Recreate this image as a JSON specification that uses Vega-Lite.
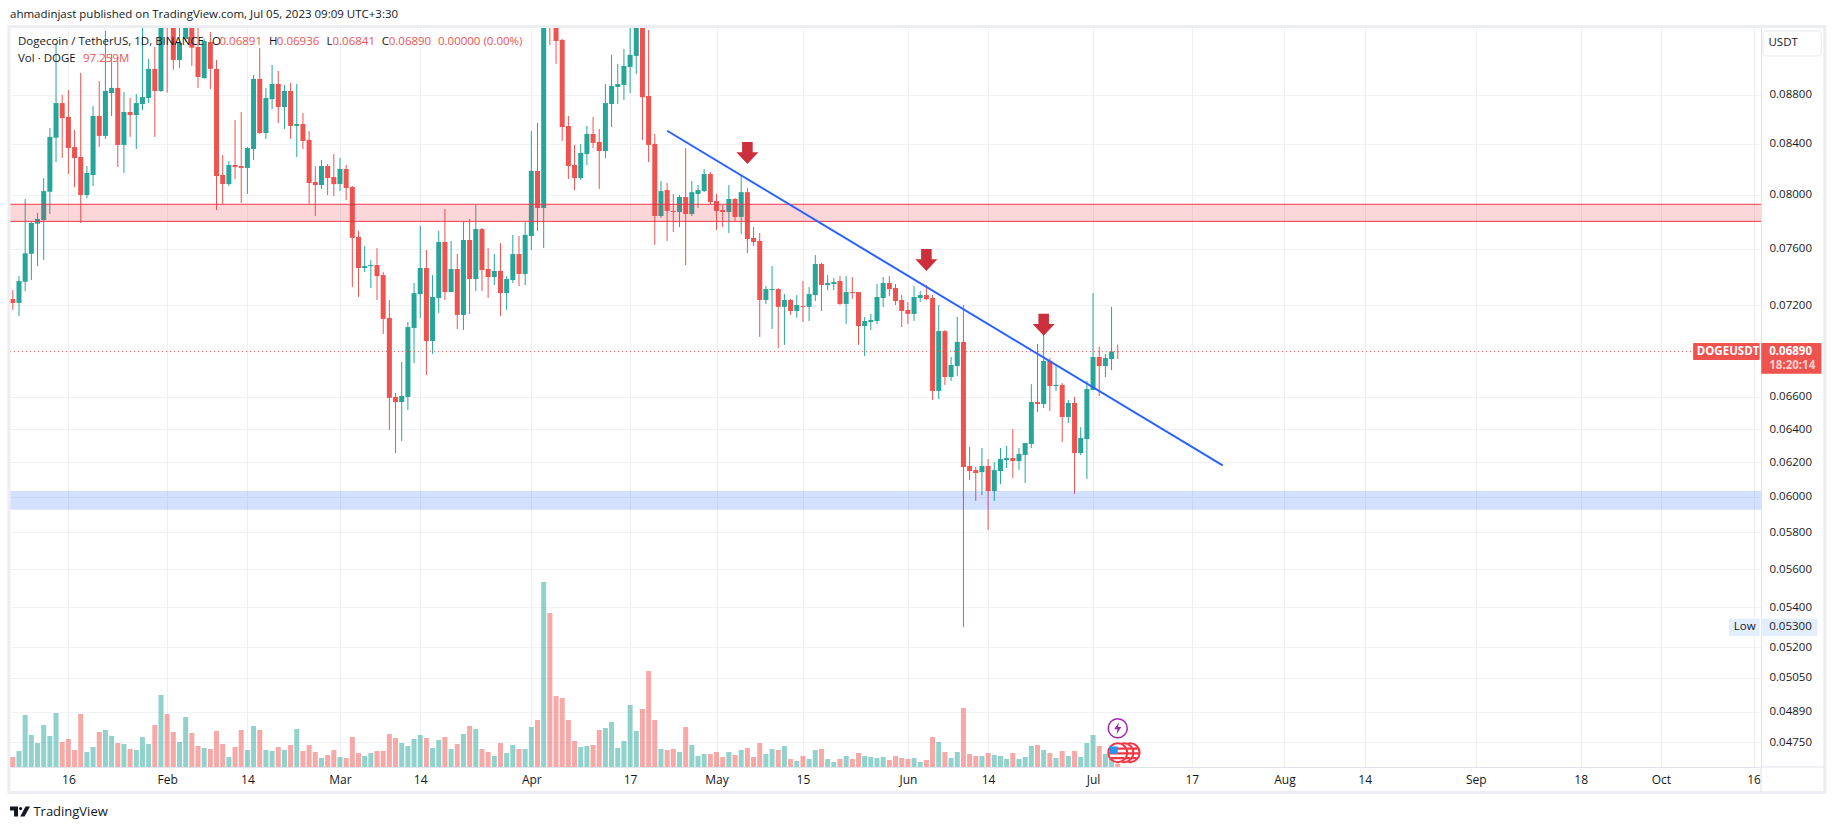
{"$schema":"https://vega.github.io/schema/vega-lite/v6.json","width":1751,"height":740,"autosize":{"type":"none"},"padding":{"left":10,"top":27,"right":74,"bottom":62},"background":"#ffffff","config":{"view":{"stroke":null},"font":"Open Sans"},
"datasets":{"candles":[
{"d":"2023-01-07","o":0.07244,"h":0.07306,"l":0.07169,"c":0.07217,"v":300,"s":"down"},
{"d":"2023-01-08","o":0.07217,"h":0.07404,"l":0.07128,"c":0.07369,"v":480,"s":"up"},
{"d":"2023-01-09","o":0.07364,"h":0.07968,"l":0.07299,"c":0.07566,"v":1560,"s":"up"},
{"d":"2023-01-10","o":0.07563,"h":0.07795,"l":0.07376,"c":0.07788,"v":960,"s":"up"},
{"d":"2023-01-11","o":0.07783,"h":0.07863,"l":0.07475,"c":0.07818,"v":720,"s":"up"},
{"d":"2023-01-12","o":0.0781,"h":0.08129,"l":0.07518,"c":0.08028,"v":1260,"s":"up"},
{"d":"2023-01-13","o":0.08023,"h":0.08525,"l":0.07855,"c":0.08453,"v":930,"s":"up"},
{"d":"2023-01-14","o":0.08447,"h":0.09245,"l":0.08253,"c":0.0873,"v":1620,"s":"up"},
{"d":"2023-01-15","o":0.0873,"h":0.08797,"l":0.08285,"c":0.08606,"v":750,"s":"down"},
{"d":"2023-01-16","o":0.08615,"h":0.0884,"l":0.0816,"c":0.08364,"v":840,"s":"down"},
{"d":"2023-01-17","o":0.08372,"h":0.08509,"l":0.08059,"c":0.08285,"v":510,"s":"down"},
{"d":"2023-01-18","o":0.08293,"h":0.08984,"l":0.07788,"c":0.07998,"v":1590,"s":"down"},
{"d":"2023-01-19","o":0.07998,"h":0.08222,"l":0.07975,"c":0.08168,"v":450,"s":"up"},
{"d":"2023-01-20","o":0.08152,"h":0.08705,"l":0.08067,"c":0.08623,"v":600,"s":"up"},
{"d":"2023-01-21","o":0.08623,"h":0.08916,"l":0.08372,"c":0.08461,"v":1050,"s":"down"},
{"d":"2023-01-22","o":0.08461,"h":0.0935,"l":0.08437,"c":0.08831,"v":1110,"s":"up"},
{"d":"2023-01-23","o":0.08814,"h":0.09148,"l":0.08623,"c":0.08857,"v":930,"s":"up"},
{"d":"2023-01-24","o":0.08857,"h":0.09122,"l":0.08214,"c":0.08389,"v":720,"s":"down"},
{"d":"2023-01-25","o":0.08389,"h":0.08823,"l":0.08168,"c":0.08656,"v":690,"s":"up"},
{"d":"2023-01-26","o":0.08656,"h":0.08772,"l":0.08453,"c":0.08631,"v":540,"s":"down"},
{"d":"2023-01-27","o":0.08631,"h":0.08806,"l":0.08356,"c":0.0873,"v":510,"s":"up"},
{"d":"2023-01-28","o":0.08722,"h":0.09395,"l":0.08672,"c":0.0878,"v":900,"s":"up"},
{"d":"2023-01-29","o":0.08772,"h":0.09105,"l":0.0873,"c":0.09019,"v":690,"s":"up"},
{"d":"2023-01-30","o":0.09019,"h":0.09209,"l":0.08453,"c":0.08831,"v":1260,"s":"down"},
{"d":"2023-01-31","o":0.08831,"h":0.0965,"l":0.08823,"c":0.0945,"v":2160,"s":"up"},
{"d":"2023-02-01","o":0.0965,"h":0.0975,"l":0.08817,"c":0.0945,"v":1590,"s":"down"},
{"d":"2023-02-02","o":0.0945,"h":0.0955,"l":0.0901,"c":0.09096,"v":1050,"s":"down"},
{"d":"2023-02-03","o":0.09096,"h":0.0939,"l":0.09027,"c":0.09245,"v":750,"s":"up"},
{"d":"2023-02-04","o":0.0928,"h":0.096,"l":0.09256,"c":0.0945,"v":1500,"s":"up"},
{"d":"2023-02-05","o":0.0945,"h":0.096,"l":0.09044,"c":0.09203,"v":1020,"s":"down"},
{"d":"2023-02-06","o":0.09209,"h":0.09386,"l":0.08857,"c":0.0895,"v":630,"s":"down"},
{"d":"2023-02-07","o":0.08941,"h":0.0928,"l":0.08933,"c":0.09262,"v":570,"s":"up"},
{"d":"2023-02-08","o":0.09253,"h":0.09341,"l":0.08848,"c":0.09019,"v":540,"s":"down"},
{"d":"2023-02-09","o":0.09019,"h":0.09096,"l":0.07885,"c":0.08144,"v":1080,"s":"down"},
{"d":"2023-02-10","o":0.08152,"h":0.08309,"l":0.0793,"c":0.08082,"v":690,"s":"down"},
{"d":"2023-02-11","o":0.08082,"h":0.08261,"l":0.08067,"c":0.0823,"v":300,"s":"up"},
{"d":"2023-02-12","o":0.0823,"h":0.0859,"l":0.08121,"c":0.08214,"v":600,"s":"down"},
{"d":"2023-02-13","o":0.08222,"h":0.08656,"l":0.07938,"c":0.08207,"v":1110,"s":"down"},
{"d":"2023-02-14","o":0.08207,"h":0.08372,"l":0.08006,"c":0.08364,"v":510,"s":"up"},
{"d":"2023-02-15","o":0.08356,"h":0.08967,"l":0.08269,"c":0.08933,"v":1230,"s":"up"},
{"d":"2023-02-16","o":0.08933,"h":0.092,"l":0.08477,"c":0.08485,"v":1110,"s":"down"},
{"d":"2023-02-17","o":0.08485,"h":0.08857,"l":0.08437,"c":0.08772,"v":510,"s":"up"},
{"d":"2023-02-18","o":0.08763,"h":0.09053,"l":0.0868,"c":0.0889,"v":480,"s":"up"},
{"d":"2023-02-19","o":0.0889,"h":0.09001,"l":0.08566,"c":0.08697,"v":600,"s":"down"},
{"d":"2023-02-20","o":0.08697,"h":0.08882,"l":0.08517,"c":0.08831,"v":510,"s":"up"},
{"d":"2023-02-21","o":0.08831,"h":0.08899,"l":0.08437,"c":0.08542,"v":660,"s":"down"},
{"d":"2023-02-22","o":0.08542,"h":0.0889,"l":0.08293,"c":0.08558,"v":1140,"s":"up"},
{"d":"2023-02-23","o":0.08558,"h":0.08647,"l":0.08356,"c":0.08421,"v":480,"s":"down"},
{"d":"2023-02-24","o":0.08429,"h":0.08501,"l":0.0793,"c":0.0809,"v":660,"s":"down"},
{"d":"2023-02-25","o":0.08098,"h":0.08222,"l":0.0784,"c":0.08075,"v":450,"s":"down"},
{"d":"2023-02-26","o":0.08075,"h":0.08269,"l":0.08044,"c":0.08222,"v":270,"s":"up"},
{"d":"2023-02-27","o":0.08222,"h":0.08238,"l":0.07998,"c":0.08129,"v":360,"s":"down"},
{"d":"2023-02-28","o":0.08136,"h":0.08316,"l":0.0799,"c":0.08082,"v":510,"s":"down"},
{"d":"2023-03-01","o":0.08082,"h":0.08285,"l":0.08028,"c":0.08199,"v":300,"s":"up"},
{"d":"2023-03-02","o":0.08199,"h":0.0823,"l":0.0796,"c":0.08052,"v":270,"s":"down"},
{"d":"2023-03-03","o":0.08059,"h":0.08067,"l":0.07327,"c":0.07678,"v":900,"s":"down"},
{"d":"2023-03-04","o":0.07685,"h":0.07729,"l":0.07258,"c":0.07461,"v":420,"s":"down"},
{"d":"2023-03-05","o":0.07461,"h":0.07619,"l":0.07433,"c":0.07475,"v":330,"s":"up"},
{"d":"2023-03-06","o":0.07475,"h":0.07518,"l":0.0732,"c":0.07482,"v":420,"s":"up"},
{"d":"2023-03-07","o":0.07482,"h":0.07604,"l":0.07237,"c":0.07404,"v":480,"s":"down"},
{"d":"2023-03-08","o":0.07411,"h":0.07433,"l":0.07007,"c":0.07108,"v":480,"s":"down"},
{"d":"2023-03-09","o":0.07115,"h":0.07237,"l":0.06394,"c":0.06593,"v":990,"s":"down"},
{"d":"2023-03-10","o":0.06599,"h":0.06624,"l":0.06256,"c":0.06567,"v":870,"s":"down"},
{"d":"2023-03-11","o":0.06567,"h":0.06822,"l":0.06328,"c":0.06605,"v":720,"s":"up"},
{"d":"2023-03-12","o":0.06599,"h":0.07087,"l":0.06517,"c":0.07053,"v":630,"s":"up"},
{"d":"2023-03-13","o":0.07047,"h":0.07355,"l":0.06815,"c":0.07285,"v":840,"s":"up"},
{"d":"2023-03-14","o":0.07278,"h":0.07766,"l":0.07115,"c":0.07461,"v":960,"s":"up"},
{"d":"2023-03-15","o":0.07461,"h":0.0759,"l":0.06738,"c":0.0696,"v":870,"s":"down"},
{"d":"2023-03-16","o":0.0696,"h":0.07411,"l":0.06875,"c":0.07258,"v":570,"s":"up"},
{"d":"2023-03-17","o":0.07251,"h":0.07729,"l":0.07149,"c":0.07648,"v":810,"s":"up"},
{"d":"2023-03-18","o":0.07648,"h":0.07893,"l":0.07237,"c":0.07292,"v":900,"s":"down"},
{"d":"2023-03-19","o":0.07292,"h":0.07656,"l":0.07292,"c":0.07454,"v":540,"s":"up"},
{"d":"2023-03-20","o":0.07454,"h":0.07561,"l":0.0704,"c":0.07135,"v":690,"s":"down"},
{"d":"2023-03-21","o":0.07135,"h":0.07795,"l":0.07033,"c":0.07663,"v":990,"s":"up"},
{"d":"2023-03-22","o":0.07663,"h":0.07818,"l":0.07142,"c":0.07383,"v":1230,"s":"down"},
{"d":"2023-03-23","o":0.07383,"h":0.07922,"l":0.07299,"c":0.07743,"v":1140,"s":"up"},
{"d":"2023-03-24","o":0.07743,"h":0.07751,"l":0.07299,"c":0.07447,"v":540,"s":"down"},
{"d":"2023-03-25","o":0.07454,"h":0.07604,"l":0.07251,"c":0.07397,"v":450,"s":"down"},
{"d":"2023-03-26","o":0.07397,"h":0.07561,"l":0.07341,"c":0.0744,"v":330,"s":"up"},
{"d":"2023-03-27","o":0.0744,"h":0.07641,"l":0.07128,"c":0.07285,"v":720,"s":"down"},
{"d":"2023-03-28","o":0.07285,"h":0.07404,"l":0.07169,"c":0.07383,"v":420,"s":"up"},
{"d":"2023-03-29","o":0.07376,"h":0.077,"l":0.07355,"c":0.07561,"v":660,"s":"up"},
{"d":"2023-03-30","o":0.07561,"h":0.07692,"l":0.07334,"c":0.07419,"v":540,"s":"down"},
{"d":"2023-03-31","o":0.07419,"h":0.07795,"l":0.07341,"c":0.077,"v":540,"s":"up"},
{"d":"2023-04-01","o":0.07692,"h":0.08501,"l":0.0759,"c":0.08183,"v":1200,"s":"up"},
{"d":"2023-04-02","o":0.08183,"h":0.08566,"l":0.07729,"c":0.079,"v":1410,"s":"down"},
{"d":"2023-04-03","o":0.079,"h":0.105,"l":0.07604,"c":0.098,"v":5550,"s":"up"},
{"d":"2023-04-04","o":0.098,"h":0.101,"l":0.09227,"c":0.0945,"v":4620,"s":"down"},
{"d":"2023-04-05","o":0.0945,"h":0.0955,"l":0.09062,"c":0.09262,"v":2130,"s":"down"},
{"d":"2023-04-06","o":0.09271,"h":0.0928,"l":0.08421,"c":0.08533,"v":2070,"s":"down"},
{"d":"2023-04-07","o":0.08542,"h":0.08623,"l":0.08121,"c":0.08222,"v":1410,"s":"down"},
{"d":"2023-04-08","o":0.0823,"h":0.08389,"l":0.08036,"c":0.08129,"v":780,"s":"down"},
{"d":"2023-04-09","o":0.08129,"h":0.08397,"l":0.08113,"c":0.08325,"v":600,"s":"up"},
{"d":"2023-04-10","o":0.08316,"h":0.08542,"l":0.0823,"c":0.08477,"v":630,"s":"up"},
{"d":"2023-04-11","o":0.08477,"h":0.08615,"l":0.08364,"c":0.08405,"v":660,"s":"down"},
{"d":"2023-04-12","o":0.08413,"h":0.08517,"l":0.08044,"c":0.0834,"v":1110,"s":"down"},
{"d":"2023-04-13","o":0.0834,"h":0.0889,"l":0.08285,"c":0.0873,"v":1170,"s":"up"},
{"d":"2023-04-14","o":0.08722,"h":0.0914,"l":0.08533,"c":0.08873,"v":1350,"s":"up"},
{"d":"2023-04-15","o":0.08865,"h":0.09062,"l":0.08722,"c":0.0889,"v":570,"s":"up"},
{"d":"2023-04-16","o":0.08882,"h":0.09192,"l":0.08755,"c":0.09044,"v":780,"s":"up"},
{"d":"2023-04-17","o":0.09036,"h":0.09386,"l":0.08814,"c":0.0914,"v":1860,"s":"up"},
{"d":"2023-04-18","o":0.09131,"h":0.0965,"l":0.08976,"c":0.0945,"v":1080,"s":"up"},
{"d":"2023-04-19","o":0.0945,"h":0.0955,"l":0.08429,"c":0.0878,"v":1740,"s":"down"},
{"d":"2023-04-20","o":0.08789,"h":0.09359,"l":0.08253,"c":0.08389,"v":2880,"s":"down"},
{"d":"2023-04-21","o":0.08397,"h":0.08477,"l":0.07627,"c":0.0784,"v":1410,"s":"down"},
{"d":"2023-04-22","o":0.0784,"h":0.08105,"l":0.07825,"c":0.08028,"v":540,"s":"up"},
{"d":"2023-04-23","o":0.08036,"h":0.0809,"l":0.07656,"c":0.07878,"v":510,"s":"down"},
{"d":"2023-04-24","o":0.07878,"h":0.08006,"l":0.07721,"c":0.0787,"v":540,"s":"down"},
{"d":"2023-04-25","o":0.0787,"h":0.07998,"l":0.07758,"c":0.07983,"v":450,"s":"up"},
{"d":"2023-04-26","o":0.07983,"h":0.08364,"l":0.07482,"c":0.07855,"v":1200,"s":"down"},
{"d":"2023-04-27","o":0.07855,"h":0.08105,"l":0.0784,"c":0.0802,"v":660,"s":"up"},
{"d":"2023-04-28","o":0.08006,"h":0.08075,"l":0.079,"c":0.08036,"v":330,"s":"up"},
{"d":"2023-04-29","o":0.08028,"h":0.08199,"l":0.0802,"c":0.0816,"v":390,"s":"up"},
{"d":"2023-04-30","o":0.0816,"h":0.08176,"l":0.0793,"c":0.07945,"v":390,"s":"down"},
{"d":"2023-05-01","o":0.07953,"h":0.08006,"l":0.07736,"c":0.07878,"v":450,"s":"down"},
{"d":"2023-05-02","o":0.07885,"h":0.07922,"l":0.07758,"c":0.0787,"v":300,"s":"down"},
{"d":"2023-05-03","o":0.0787,"h":0.08075,"l":0.07714,"c":0.07968,"v":450,"s":"up"},
{"d":"2023-05-04","o":0.07968,"h":0.07975,"l":0.07803,"c":0.07833,"v":360,"s":"down"},
{"d":"2023-05-05","o":0.07833,"h":0.08152,"l":0.07707,"c":0.0802,"v":510,"s":"up"},
{"d":"2023-05-06","o":0.0802,"h":0.08052,"l":0.07568,"c":0.0767,"v":570,"s":"down"},
{"d":"2023-05-07","o":0.07678,"h":0.07758,"l":0.07619,"c":0.07648,"v":300,"s":"down"},
{"d":"2023-05-08","o":0.07656,"h":0.07714,"l":0.06987,"c":0.07237,"v":720,"s":"down"},
{"d":"2023-05-09","o":0.07237,"h":0.07334,"l":0.0721,"c":0.07313,"v":390,"s":"up"},
{"d":"2023-05-10","o":0.07306,"h":0.07475,"l":0.0704,"c":0.07313,"v":540,"s":"up"},
{"d":"2023-05-11","o":0.07313,"h":0.0732,"l":0.06914,"c":0.0719,"v":510,"s":"down"},
{"d":"2023-05-12","o":0.0719,"h":0.07278,"l":0.06934,"c":0.07237,"v":630,"s":"up"},
{"d":"2023-05-13","o":0.07237,"h":0.07244,"l":0.07135,"c":0.07162,"v":240,"s":"down"},
{"d":"2023-05-14","o":0.07162,"h":0.07271,"l":0.07115,"c":0.07203,"v":180,"s":"up"},
{"d":"2023-05-15","o":0.07196,"h":0.07369,"l":0.07087,"c":0.0719,"v":330,"s":"down"},
{"d":"2023-05-16","o":0.0719,"h":0.07327,"l":0.07094,"c":0.07278,"v":240,"s":"up"},
{"d":"2023-05-17","o":0.07271,"h":0.07554,"l":0.0723,"c":0.0749,"v":510,"s":"up"},
{"d":"2023-05-18","o":0.0749,"h":0.07497,"l":0.07162,"c":0.07341,"v":540,"s":"down"},
{"d":"2023-05-19","o":0.07341,"h":0.07411,"l":0.07306,"c":0.07355,"v":240,"s":"up"},
{"d":"2023-05-20","o":0.07348,"h":0.0739,"l":0.07306,"c":0.07362,"v":150,"s":"up"},
{"d":"2023-05-21","o":0.07369,"h":0.07404,"l":0.07203,"c":0.0721,"v":240,"s":"down"},
{"d":"2023-05-22","o":0.0721,"h":0.07404,"l":0.07074,"c":0.07292,"v":330,"s":"up"},
{"d":"2023-05-23","o":0.07292,"h":0.07397,"l":0.07244,"c":0.07285,"v":240,"s":"down"},
{"d":"2023-05-24","o":0.07292,"h":0.07292,"l":0.06934,"c":0.0706,"v":420,"s":"down"},
{"d":"2023-05-25","o":0.0706,"h":0.07121,"l":0.06861,"c":0.07094,"v":330,"s":"up"},
{"d":"2023-05-26","o":0.07087,"h":0.07142,"l":0.07033,"c":0.07101,"v":300,"s":"up"},
{"d":"2023-05-27","o":0.07094,"h":0.07348,"l":0.07074,"c":0.07258,"v":270,"s":"up"},
{"d":"2023-05-28","o":0.07251,"h":0.07397,"l":0.0719,"c":0.07355,"v":300,"s":"up"},
{"d":"2023-05-29","o":0.07355,"h":0.07404,"l":0.07265,"c":0.07313,"v":210,"s":"down"},
{"d":"2023-05-30","o":0.0732,"h":0.07348,"l":0.07203,"c":0.0723,"v":330,"s":"down"},
{"d":"2023-05-31","o":0.07237,"h":0.07271,"l":0.07053,"c":0.07162,"v":270,"s":"down"},
{"d":"2023-06-01","o":0.07169,"h":0.07223,"l":0.07074,"c":0.07142,"v":240,"s":"down"},
{"d":"2023-06-02","o":0.07142,"h":0.07334,"l":0.07094,"c":0.07258,"v":270,"s":"up"},
{"d":"2023-06-03","o":0.07251,"h":0.07299,"l":0.07223,"c":0.07271,"v":150,"s":"up"},
{"d":"2023-06-04","o":0.07271,"h":0.07341,"l":0.07237,"c":0.07244,"v":210,"s":"down"},
{"d":"2023-06-05","o":0.07251,"h":0.07271,"l":0.0658,"c":0.06637,"v":900,"s":"down"},
{"d":"2023-06-06","o":0.06637,"h":0.07203,"l":0.06586,"c":0.07026,"v":750,"s":"up"},
{"d":"2023-06-07","o":0.07026,"h":0.07033,"l":0.06675,"c":0.06725,"v":450,"s":"down"},
{"d":"2023-06-08","o":0.06725,"h":0.06855,"l":0.067,"c":0.06803,"v":270,"s":"up"},
{"d":"2023-06-09","o":0.06796,"h":0.07121,"l":0.06731,"c":0.06954,"v":450,"s":"up"},
{"d":"2023-06-10","o":0.06954,"h":0.07203,"l":0.053,"c":0.06173,"v":1770,"s":"down"},
{"d":"2023-06-11","o":0.06179,"h":0.06292,"l":0.06097,"c":0.06149,"v":390,"s":"down"},
{"d":"2023-06-12","o":0.06155,"h":0.06173,"l":0.05977,"c":0.06138,"v":330,"s":"down"},
{"d":"2023-06-13","o":0.06143,"h":0.06286,"l":0.0601,"c":0.06179,"v":330,"s":"up"},
{"d":"2023-06-14","o":0.06179,"h":0.0622,"l":0.05813,"c":0.06033,"v":420,"s":"down"},
{"d":"2023-06-15","o":0.06033,"h":0.06202,"l":0.05977,"c":0.06155,"v":360,"s":"up"},
{"d":"2023-06-16","o":0.06149,"h":0.06286,"l":0.06074,"c":0.0622,"v":330,"s":"up"},
{"d":"2023-06-17","o":0.06214,"h":0.06298,"l":0.06167,"c":0.06226,"v":240,"s":"up"},
{"d":"2023-06-18","o":0.06226,"h":0.064,"l":0.06109,"c":0.06208,"v":420,"s":"down"},
{"d":"2023-06-19","o":0.06208,"h":0.06286,"l":0.06155,"c":0.0625,"v":240,"s":"up"},
{"d":"2023-06-20","o":0.06244,"h":0.06316,"l":0.0608,"c":0.06316,"v":300,"s":"up"},
{"d":"2023-06-21","o":0.0631,"h":0.0668,"l":0.06286,"c":0.06567,"v":630,"s":"up"},
{"d":"2023-06-22","o":0.06567,"h":0.06941,"l":0.06505,"c":0.06555,"v":660,"s":"down"},
{"d":"2023-06-23","o":0.06555,"h":0.07013,"l":0.0653,"c":0.06829,"v":510,"s":"up"},
{"d":"2023-06-24","o":0.06829,"h":0.06848,"l":0.06511,"c":0.06668,"v":420,"s":"down"},
{"d":"2023-06-25","o":0.06668,"h":0.06803,"l":0.06637,"c":0.06675,"v":270,"s":"up"},
{"d":"2023-06-26","o":0.06675,"h":0.06687,"l":0.06322,"c":0.06474,"v":480,"s":"down"},
{"d":"2023-06-27","o":0.06474,"h":0.0658,"l":0.06437,"c":0.06561,"v":330,"s":"up"},
{"d":"2023-06-28","o":0.06561,"h":0.06599,"l":0.06016,"c":0.06256,"v":480,"s":"down"},
{"d":"2023-06-29","o":0.06256,"h":0.06412,"l":0.06244,"c":0.06346,"v":300,"s":"up"},
{"d":"2023-06-30","o":0.0634,"h":0.067,"l":0.06103,"c":0.06649,"v":720,"s":"up"},
{"d":"2023-07-01","o":0.06643,"h":0.07285,"l":0.06643,"c":0.06855,"v":960,"s":"up"},
{"d":"2023-07-02","o":0.06855,"h":0.06921,"l":0.06605,"c":0.06796,"v":630,"s":"down"},
{"d":"2023-07-03","o":0.06796,"h":0.06875,"l":0.06725,"c":0.06848,"v":390,"s":"up"},
{"d":"2023-07-04","o":0.06841,"h":0.0719,"l":0.0677,"c":0.06891,"v":300,"s":"up"},
{"d":"2023-07-05","o":0.06891,"h":0.06936,"l":0.06841,"c":0.0689,"v":97.259,"s":"down"}
]},
"encoding":{"x":{"field":"d","type":"temporal","title":null,"scale":{"type":"utc","domain":["2023-01-06T13:00:00Z","2023-10-17T05:00:00Z"],"nice":false,"padding":0},
"axis":{"values":["2023-01-16","2023-02-01","2023-02-14","2023-03-01","2023-03-14","2023-04-01","2023-04-17","2023-05-01","2023-05-15","2023-06-01","2023-06-14","2023-07-01","2023-07-17","2023-08-01","2023-08-14","2023-09-01","2023-09-18","2023-10-01","2023-10-16"],"labelExpr":"utcdate(datum.value)===1 ? utcFormat(datum.value,'%b') : utcFormat(datum.value,'%-d')","grid":true,"gridColor":"#EEF0F4","gridWidth":1,"ticks":false,"domain":true,"domainColor":"#E0E3EB","labelColor":"#131722","labelFont":"Open Sans","labelFontSize":12,"labelPadding":7,"labelOverlap":false,"labelFlush":false,"labelBound":false}}},
"layer":[
{"data":{"values":[{"d":"2023-07-01","p":0.06}]},"mark":{"type":"rule","opacity":0},"encoding":{"y":{"field":"p","type":"quantitative","title":null,"scale":{"type":"log","domain":[0.04639,0.09386],"nice":false,"zero":false},"axis":{"values":[0.0475,0.0489,0.0505,0.052,0.054,0.056,0.058,0.06,0.062,0.064,0.066,0.072,0.076,0.08,0.084,0.088],"format":".5f","orient":"right","grid":true,"gridColor":"#F1F2F6","gridWidth":1,"ticks":false,"domain":true,"domainColor":"#E0E3EB","labelColor":"#131722","labelFont":"Open Sans","labelFontSize":11.5,"labelPadding":8,"labelOverlap":false,"labelFlush":false,"labelBound":false}}}},
{"layer":[
{"data":{"name":"candles"},"mark":{"type":"rule","strokeWidth":1,"clip":true},"encoding":{"y":{"field":"l","type":"quantitative","title":null,"axis":null,"scale":{"type":"log","domain":[0.04639,0.09386],"nice":false,"zero":false}},"y2":{"field":"h"},"color":{"field":"s","type":"nominal","legend":null,"scale":{"domain":["up","down"],"range":["#26A69A","#EF5350"]}}}},
{"data":{"name":"candles"},"mark":{"type":"bar","size":5,"orient":"vertical","clip":true},"encoding":{"y":{"field":"o","type":"quantitative","axis":null,"stack":null},"y2":{"field":"c"},"color":{"field":"s","type":"nominal","legend":null}}},
{"data":{"values":[{"d":"2023-01-06T13:00:00Z","d2":"2023-10-17T05:00:00Z","p":0.07928,"p2":0.078}]},"mark":{"type":"rect","fill":"#F23645","opacity":0.2},"encoding":{"x2":{"field":"d2"},"y":{"field":"p","type":"quantitative","axis":null},"y2":{"field":"p2"}}},
{"data":{"values":[{"d":"2023-01-06T13:00:00Z","d2":"2023-10-17T05:00:00Z","p":0.07928},{"d":"2023-01-06T13:00:00Z","d2":"2023-10-17T05:00:00Z","p":0.078}]},"mark":{"type":"rule","color":"#F23645","strokeWidth":1},"encoding":{"x2":{"field":"d2"},"y":{"field":"p","type":"quantitative","axis":null}}},
{"data":{"values":[{"d":"2023-01-06T13:00:00Z","d2":"2023-10-17T05:00:00Z","p":0.06033,"p2":0.05927}]},"mark":{"type":"rect","fill":"#2962FF","opacity":0.2},"encoding":{"x2":{"field":"d2"},"y":{"field":"p","type":"quantitative","axis":null},"y2":{"field":"p2"}}},
{"data":{"values":[{"d":"2023-01-06T13:00:00Z","d2":"2023-10-06T05:00:00Z","p":0.0689}]},"mark":{"type":"rule","color":"#EF5350","strokeWidth":1,"strokeDash":[1,3]},"encoding":{"x2":{"field":"d2"},"y":{"field":"p","type":"quantitative","axis":null}}},
{"data":{"values":[{"d":"2023-04-23","p":0.08503},{"d":"2023-07-22","p":0.06183}]},"mark":{"type":"line","color":"#2962FF","strokeWidth":2},"encoding":{"y":{"field":"p","type":"quantitative","axis":null}}},
{"data":{"values":[{"d":"2023-05-06","p":0.08325},{"d":"2023-06-04","p":0.07518},{"d":"2023-06-23","p":0.07069}]},"mark":{"type":"point","filled":true,"opacity":1,"color":"#CC2F3C","size":484,"shape":"M-0.48,-1L0.48,-1L0.48,-0.06L1,-0.06L0,1L-1,-0.06L-0.48,-0.06Z"},"encoding":{"y":{"field":"p","type":"quantitative","axis":null}}},
{"data":{"values":[{"d":"2023-01-06T09:00:00Z","d2":"2023-10-27T13:00:00Z","p":0.0939,"p2":0.04528}]},"mark":{"type":"rect","filled":false,"stroke":"#EDEEF3","strokeWidth":3},"encoding":{"x2":{"field":"d2"},"y":{"field":"p","type":"quantitative","axis":null},"y2":{"field":"p2"}}},
{"data":{"values":[{"d":"2023-10-17T05:00:00Z","d2":"2023-10-17T05:00:00Z","p":0.04639,"p2":0.04528}]},"mark":{"type":"rule","color":"#E0E3EB","strokeWidth":1},"encoding":{"y":{"field":"p","type":"quantitative","axis":null},"y2":{"field":"p2"}}},
{"data":{"values":[{"d":"2023-10-17T05:00:00Z","d2":"2023-10-27T13:00:00Z","p":0.04639}]},"mark":{"type":"rule","color":"#E0E3EB","strokeWidth":1},"encoding":{"x2":{"field":"d2"},"y":{"field":"p","type":"quantitative","axis":null}}},
{"data":{"values":[{"d":"2023-10-17T12:00:00Z","d2":"2023-10-27T00:00:00Z","p":0.09351,"p2":0.0913}]},"mark":{"type":"rect","filled":true,"fill":"#ffffff","stroke":"#EEF0F5","strokeWidth":1.5,"cornerRadius":4},"encoding":{"x2":{"field":"d2"},"y":{"field":"p","type":"quantitative","axis":null},"y2":{"field":"p2"}}},
{"data":{"values":[{"d":"2023-10-06T05:00:00Z","d2":"2023-10-17T00:00:00Z","p":0.06947,"p2":0.06835},{"d":"2023-10-17T06:00:00Z","d2":"2023-10-27T00:00:00Z","p":0.06947,"p2":0.06746}]},"mark":{"type":"rect","fill":"#EF5350","cornerRadius":1},"encoding":{"x2":{"field":"d2"},"y":{"field":"p","type":"quantitative","axis":null},"y2":{"field":"p2"}}},
{"data":{"values":[{"d":"2023-10-12T00:00:00Z","d2":"2023-10-17T00:00:00Z","p":0.05342,"p2":0.05255},{"d":"2023-10-17T06:00:00Z","d2":"2023-10-26T08:00:00Z","p":0.05342,"p2":0.05255}]},"mark":{"type":"rect","fill":"#E3EEFC","cornerRadius":1},"encoding":{"x2":{"field":"d2"},"y":{"field":"p","type":"quantitative","axis":null},"y2":{"field":"p2"}}},
{"data":{"values":[{"d":"2023-01-08T04:00:00Z","p":0.04446}]},"mark":{"type":"point","filled":true,"opacity":1,"color":"#131722","size":400,"shape":"M-1,-0.5H-0.2V0.5H-0.6V-0.1H-1ZM0.55,-0.5H1L0.45,0.5H0.02ZM-0.1,-0.3A0.16,0.16 0 1 0 0.22,-0.3A0.16,0.16 0 1 0 -0.1,-0.3Z"},"encoding":{"y":{"field":"p","type":"quantitative","axis":null}}},
{"data":{"values":[
{"d":"2023-01-06T13:00:00Z","p":0.09497,"t":"ahmadinjast published on TradingView.com, Jul 05, 2023 09:09 UTC+3:30"},
{"d":"2023-01-07T20:00:00Z","p":0.09256,"t":"Dogecoin / TetherUS, 1D, BINANCE"},
{"d":"2023-02-08T06:30:00Z","p":0.09256,"t":"O"},
{"d":"2023-02-17T12:00:00Z","p":0.09256,"t":"H"},
{"d":"2023-02-26T20:00:00Z","p":0.09256,"t":"L"},
{"d":"2023-03-07T18:00:00Z","p":0.09256,"t":"C"},
{"d":"2023-01-07T20:00:00Z","p":0.09107,"t":"Vol · DOGE"},
{"d":"2023-10-18T10:00:00Z","p":0.09247,"t":"USDT"},
{"d":"2023-10-12T19:00:00Z","p":0.053,"t":"Low"},
{"d":"2023-10-18T13:00:00Z","p":0.053,"t":"0.05300"}
]},"mark":{"type":"text","align":"left","baseline":"middle","color":"#131722","font":"Open Sans","fontSize":11.5},"encoding":{"y":{"field":"p","type":"quantitative","axis":null},"text":{"field":"t"}}},
{"data":{"values":[
{"d":"2023-02-09T11:30:00Z","p":0.09256,"t":"0.06891"},
{"d":"2023-02-18T18:30:00Z","p":0.09256,"t":"0.06936"},
{"d":"2023-02-27T19:00:00Z","p":0.09256,"t":"0.06841"},
{"d":"2023-03-08T21:30:00Z","p":0.09256,"t":"0.06890"},
{"d":"2023-03-16T21:00:00Z","p":0.09256,"t":"0.00000 (0.00%)"},
{"d":"2023-01-18T09:00:00Z","p":0.09107,"t":"97.259M"}
]},"mark":{"type":"text","align":"left","baseline":"middle","color":"#EF5350","font":"Open Sans","fontSize":11.5},"encoding":{"y":{"field":"p","type":"quantitative","axis":null},"text":{"field":"t"}}},
{"data":{"values":[{"d":"2023-10-06T19:00:00Z","p":0.0689,"t":"DOGEUSDT"},{"d":"2023-10-18T13:00:00Z","p":0.0689,"t":"0.06890"}]},"mark":{"type":"text","align":"left","baseline":"middle","color":"#ffffff","font":"Open Sans","fontSize":11.5,"fontWeight":"bold"},"encoding":{"y":{"field":"p","type":"quantitative","axis":null},"text":{"field":"t"}}},
{"data":{"values":[{"d":"2023-10-18T13:00:00Z","p":0.06796,"t":"18:20:14"}]},"mark":{"type":"text","align":"left","baseline":"middle","color":"#FBCFCF","font":"Open Sans","fontSize":11.5,"fontWeight":"bold"},"encoding":{"y":{"field":"p","type":"quantitative","axis":null},"text":{"field":"t"}}},
{"data":{"values":[{"d":"2023-01-10T08:00:00Z","p":0.04446,"t":"TradingView"}]},"mark":{"type":"text","align":"left","baseline":"middle","color":"#131722","font":"Open Sans","fontSize":13},"encoding":{"y":{"field":"p","type":"quantitative","axis":null},"text":{"field":"t"}}}
]},
{"layer":[
{"data":{"name":"candles"},"mark":{"type":"bar","size":5,"orient":"vertical","opacity":0.5},"encoding":{"y":{"field":"v","type":"quantitative","axis":null,"stack":null,"scale":{"domain":[0,22200],"nice":false}},"color":{"field":"s","type":"nominal","legend":null}}},
{"data":{"values":[{"d":"2023-07-05","v":1161}]},"mark":{"type":"point","filled":true,"fill":"#ffffff","stroke":"#9C27B0","strokeWidth":1.5,"opacity":1,"size":361,"shape":"circle"},"encoding":{"y":{"field":"v","type":"quantitative","axis":null}}},
{"data":{"values":[{"d":"2023-07-05","v":1161}]},"mark":{"type":"point","filled":true,"color":"#9C27B0","opacity":1,"size":144,"shape":"M0.2,-1L-0.6,0.15H-0.05L-0.2,1L0.6,-0.2H0.05Z"},"encoding":{"y":{"field":"v","type":"quantitative","axis":null}}},
{"data":{"values":[{"d":"2023-07-07","v":429}]},"mark":{"type":"point","filled":true,"fill":"#ffffff","stroke":"#F23645","strokeWidth":2,"opacity":1,"size":361,"shape":"circle"},"encoding":{"y":{"field":"v","type":"quantitative","axis":null}}},
{"data":{"values":[{"d":"2023-07-07","v":429}]},"mark":{"type":"point","filled":true,"color":"#F23645","opacity":1,"size":361,"shape":"M-0.8,-0.55H0.8V-0.3H-0.8ZM-0.95,-0.05H0.95V0.2H-0.95ZM-0.7,0.45H0.7V0.7H-0.7Z"},"encoding":{"y":{"field":"v","type":"quantitative","axis":null}}},
{"data":{"values":[{"d":"2023-07-06","v":429}]},"mark":{"type":"point","filled":true,"fill":"#ffffff","stroke":"#F23645","strokeWidth":2,"opacity":1,"size":361,"shape":"circle"},"encoding":{"y":{"field":"v","type":"quantitative","axis":null}}},
{"data":{"values":[{"d":"2023-07-06","v":429}]},"mark":{"type":"point","filled":true,"color":"#F23645","opacity":1,"size":361,"shape":"M-0.8,-0.55H0.8V-0.3H-0.8ZM-0.95,-0.05H0.95V0.2H-0.95ZM-0.7,0.45H0.7V0.7H-0.7Z"},"encoding":{"y":{"field":"v","type":"quantitative","axis":null}}},
{"data":{"values":[{"d":"2023-07-05","v":429}]},"mark":{"type":"point","filled":true,"fill":"#ffffff","stroke":"#F23645","strokeWidth":2,"opacity":1,"size":361,"shape":"circle"},"encoding":{"y":{"field":"v","type":"quantitative","axis":null}}},
{"data":{"values":[{"d":"2023-07-05","v":429}]},"mark":{"type":"point","filled":true,"color":"#F23645","opacity":1,"size":361,"shape":"M-0.8,-0.55H0.8V-0.3H-0.8ZM-0.95,-0.05H0.95V0.2H-0.95ZM-0.7,0.45H0.7V0.7H-0.7Z"},"encoding":{"y":{"field":"v","type":"quantitative","axis":null}}},
{"data":{"values":[{"d":"2023-07-05","v":429}]},"mark":{"type":"point","filled":true,"color":"#2196F3","opacity":1,"size":361,"shape":"M-0.8,-0.65H0V0.1H-0.9Z"},"encoding":{"y":{"field":"v","type":"quantitative","axis":null}}}
]}
],
"resolve":{"scale":{"y":"independent"},"axis":{"y":"independent"}}}
